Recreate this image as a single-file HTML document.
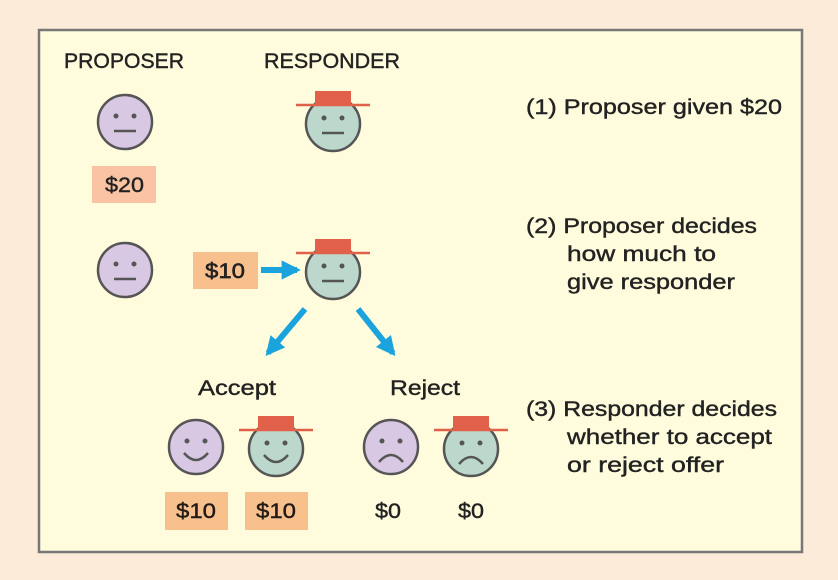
<!DOCTYPE html>
<html><head><style>
html,body{margin:0;padding:0;background:#fdebd9;}
svg{display:block;font-family:"Liberation Sans",sans-serif;}
</style></head><body>
<svg width="838" height="580" viewBox="0 0 838 580" xmlns="http://www.w3.org/2000/svg">
<defs>
<marker id="ah" viewBox="0 0 10 10" refX="8" refY="5" markerWidth="3.2" markerHeight="3.2" orient="auto"><path d="M0,0 L10,5 L0,10 z" fill="#1aa3dc"/></marker>
<g id="face"><circle cx="0" cy="0" r="27" stroke="#555" stroke-width="2.5"/><circle cx="-9" cy="-6" r="2.5" fill="#555"/><circle cx="9" cy="-6" r="2.5" fill="#555"/></g>
<g id="hat"><rect x="-18" y="-33" width="36" height="14" fill="#e0604a"/><line x1="-37" y1="-19" x2="37" y2="-19" stroke="#e0604a" stroke-width="2.5"/></g>
</defs>
<rect x="39" y="30" width="763" height="522" fill="#fefcdc" stroke="#777" stroke-width="2.5"/>
<g font-size="21" fill="#222" stroke="#222" stroke-width="0.4" lengthAdjust="spacingAndGlyphs">
<text x="64" y="68" textLength="120" lengthAdjust="spacingAndGlyphs">PROPOSER</text>
<text x="264" y="68" textLength="136" lengthAdjust="spacingAndGlyphs">RESPONDER</text>
<text x="526" y="114" textLength="256" lengthAdjust="spacingAndGlyphs">(1) Proposer given $20</text>
<text x="526" y="233" textLength="231" lengthAdjust="spacingAndGlyphs">(2) Proposer decides</text>
<text x="567" y="261" textLength="149" lengthAdjust="spacingAndGlyphs">how much to</text>
<text x="567" y="289" textLength="168" lengthAdjust="spacingAndGlyphs">give responder</text>
<text x="526" y="416" textLength="251" lengthAdjust="spacingAndGlyphs">(3) Responder decides</text>
<text x="567" y="444" textLength="205" lengthAdjust="spacingAndGlyphs">whether to accept</text>
<text x="567" y="472" textLength="157" lengthAdjust="spacingAndGlyphs">or reject offer</text>
<text x="198" y="395" textLength="78" lengthAdjust="spacingAndGlyphs">Accept</text>
<text x="390" y="395" textLength="70" lengthAdjust="spacingAndGlyphs">Reject</text>
</g>
<g transform="translate(125,122)" fill="#d9c8e3"><use href="#face"/><line x1="-11" y1="9" x2="11" y2="9" stroke="#555" stroke-width="2.5"/></g>
<g transform="translate(333,124)" fill="#bcd8cc"><use href="#face"/><line x1="-11" y1="9" x2="11" y2="9" stroke="#555" stroke-width="2.5"/><use href="#hat"/></g>
<rect x="92" y="166" width="64" height="37" fill="#f9c3a4"/>
<g font-size="21" fill="#222" stroke="#222" stroke-width="0.4">
<text x="105" y="192" textLength="39" lengthAdjust="spacingAndGlyphs">$20</text>
<text x="205" y="278" textLength="40" lengthAdjust="spacingAndGlyphs">$10</text>
<text x="176" y="518" textLength="40" lengthAdjust="spacingAndGlyphs">$10</text>
<text x="256" y="518" textLength="40" lengthAdjust="spacingAndGlyphs">$10</text>
<text x="375" y="518" textLength="26" lengthAdjust="spacingAndGlyphs">$0</text>
<text x="458" y="518" textLength="26" lengthAdjust="spacingAndGlyphs">$0</text>
</g>
<g transform="translate(125,270)" fill="#d9c8e3"><use href="#face"/><line x1="-11" y1="9" x2="11" y2="9" stroke="#555" stroke-width="2.5"/></g>
<g transform="translate(333,272)" fill="#bcd8cc"><use href="#face"/><line x1="-11" y1="9" x2="11" y2="9" stroke="#555" stroke-width="2.5"/><use href="#hat"/></g>
<rect x="193" y="252" width="65" height="37" fill="#f9c3a4" style="mix-blend-mode:multiply"/>
<text x="205" y="278" font-size="21" fill="#222" stroke="#222" stroke-width="0.4" textLength="40" lengthAdjust="spacingAndGlyphs">$10</text>
<line x1="261" y1="270" x2="297" y2="270" stroke="#1aa3dc" stroke-width="6" marker-end="url(#ah)"/>
<line x1="305" y1="309" x2="268" y2="353" stroke="#1aa3dc" stroke-width="6" marker-end="url(#ah)"/>
<line x1="358" y1="309" x2="393" y2="353" stroke="#1aa3dc" stroke-width="6" marker-end="url(#ah)"/>
<g transform="translate(196,447)" fill="#d9c8e3"><use href="#face"/><path d="M-12,6 Q0,20 12,6" fill="none" stroke="#555" stroke-width="2.5"/></g>
<g transform="translate(276,449)" fill="#bcd8cc"><use href="#face"/><path d="M-12,6 Q0,20 12,6" fill="none" stroke="#555" stroke-width="2.5"/><use href="#hat"/></g>
<g transform="translate(391,447)" fill="#d9c8e3"><use href="#face"/><path d="M-12,15 Q0,1 12,15" fill="none" stroke="#555" stroke-width="2.5"/></g>
<g transform="translate(471,449)" fill="#bcd8cc"><use href="#face"/><path d="M-12,15 Q0,1 12,15" fill="none" stroke="#555" stroke-width="2.5"/><use href="#hat"/></g>
<rect x="165" y="492" width="63" height="38" fill="#f9c3a4" style="mix-blend-mode:multiply"/>
<rect x="245" y="492" width="63" height="38" fill="#f9c3a4" style="mix-blend-mode:multiply"/>
</svg>
</body></html>
